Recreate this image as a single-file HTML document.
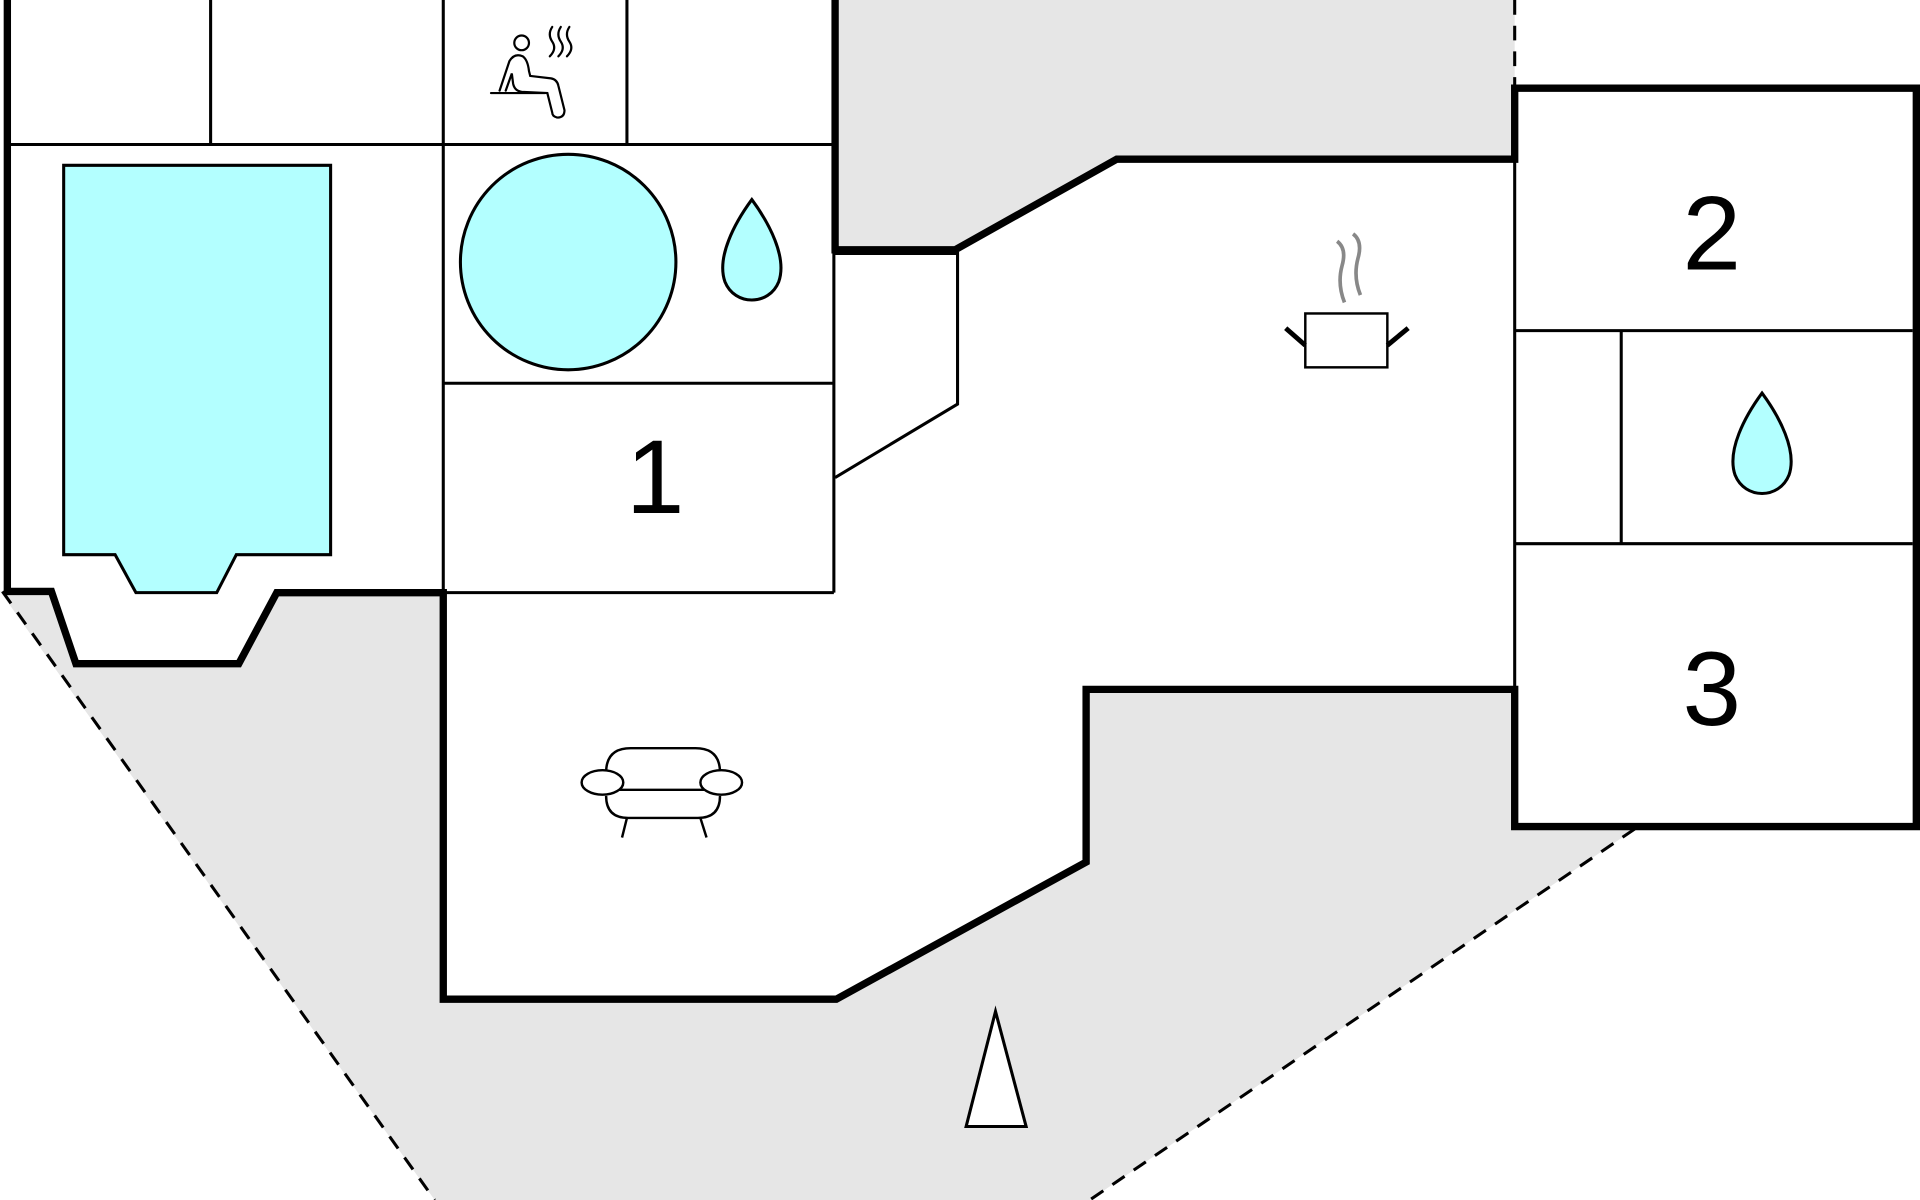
<!DOCTYPE html>
<html><head><meta charset="utf-8"><style>
html,body{margin:0;padding:0;background:#fff;width:1920px;height:1200px;overflow:hidden}
svg{display:block}
text{font-family:"Liberation Sans",sans-serif}
</style></head><body>
<svg width="1920" height="1200" viewBox="0 0 1568 980" xmlns="http://www.w3.org/2000/svg">
<rect width="1568" height="980" fill="#fff"/>
<!-- gray areas -->
<polygon points="682,0 1237,0 1237,130 912,130 780,204 682,204" fill="#e6e6e6"/>
<polygon points="0,483 42,483 62,542 195,542 226,484 362,484 362,816 683,816 887,704 887,563 1237,563 1237,675 1335,677 890,980 355,980" fill="#e6e6e6"/>
<!-- dashed -->
<g stroke="#000" stroke-width="2.5" stroke-dasharray="12,9" fill="none">
<line x1="2" y1="483" x2="355" y2="980"/>
<line x1="1335" y1="677" x2="890" y2="980"/>
<line x1="1237" y1="0" x2="1237" y2="72"/>
</g>
<!-- thin walls -->
<g stroke="#000" stroke-width="2.5" fill="none">
<line x1="6" y1="118" x2="680" y2="118"/>
<line x1="172" y1="0" x2="172" y2="118"/>
<line x1="362" y1="0" x2="362" y2="484"/>
<line x1="512" y1="0" x2="512" y2="118"/>
<line x1="362" y1="313" x2="681" y2="313"/>
<line x1="681" y1="204" x2="681" y2="484"/>
<line x1="362" y1="484" x2="681" y2="484"/>
<polyline points="682,207 782,207 782,330 682,390"/>
<line x1="1237" y1="130" x2="1237" y2="563"/>
<line x1="1237" y1="270" x2="1562" y2="270"/>
<line x1="1237" y1="444" x2="1562" y2="444"/>
<line x1="1324" y1="270" x2="1324" y2="444"/>
</g>
<!-- thick walls -->
<g stroke="#000" stroke-width="6" fill="none" stroke-linejoin="miter">
<polyline points="6,0 6,483 42,483 62,542 195,542 226,484 362,484 362,816 683,816 887,704 887,563 1237,563 1237,675 1565,675 1565,72 1237,72 1237,130 912,130 780,204 682,204 682,0"/>
</g>
<!-- pool -->
<polygon points="52,135 270,135 270,453 193,453 177,484 111,484 94,453 52,453" fill="#b3ffff" stroke="#000" stroke-width="2.5"/>
<circle cx="464" cy="214" r="88" fill="#b3ffff" stroke="#000" stroke-width="2.5"/>
<!-- drops -->
<path d="M614,163 C600,182 585,210 592,230 C600,250 628,250 636,230 C643,210 628,182 614,163 Z" fill="#b3ffff" stroke="#000" stroke-width="2.5"/>
<path d="M1439,321 C1425,340 1410,368 1417,388 C1425,408 1453,408 1461,388 C1468,368 1453,340 1439,321 Z" fill="#b3ffff" stroke="#000" stroke-width="2.5"/>
<!-- numbers -->
<text x="535" y="419" font-size="86" text-anchor="middle">1</text>
<text x="1398" y="220" font-size="86" text-anchor="middle">2</text>
<text x="1398" y="592" font-size="86" text-anchor="middle">3</text>
<!-- sauna icon -->
<g stroke="#000" stroke-width="1.8" fill="none" stroke-linecap="round">
<circle cx="426" cy="35" r="6"/>
<path d="M408,74 L416,50 Q420,43 427,46 Q431,49 432,58 L433,62 L450,64 Q455,65 456,70 L461,90 Q461,96 455,96 Q451,95 451,92 L447,76 L426,75 Q420,74 419,68 L418,60 L413,74"/>
<line x1="401" y1="76" x2="445" y2="76"/>
<path d="M451,22 q-4,6 0,12 q4,6 -2,12"/>
<path d="M458,22 q-4,6 0,12 q4,6 -2,12"/>
<path d="M465,22 q-4,6 0,12 q4,6 -2,12"/>
</g>
<!-- pot icon -->
<g stroke="#000" stroke-width="2" fill="none">
<rect x="1066" y="256" width="67" height="44"/>
<path d="M1066,282 L1050,268" stroke-width="4"/>
<path d="M1133,282 L1150,268" stroke-width="4"/>
<path d="M1092,197 q8,6 4,20 q-4,15 2,30" stroke="#888" stroke-width="3"/>
<path d="M1105,191 q8,6 4,20 q-4,15 2,30" stroke="#888" stroke-width="3"/>
</g>
<!-- sofa icon -->
<g stroke="#000" stroke-width="2" fill="#fff">
<path d="M495,631 Q495,611 515,611 L568,611 Q588,611 588,631"/>
<path d="M495,650 Q495,668 513,668 L570,668 Q588,668 588,650"/>
<line x1="505" y1="645" x2="578" y2="645"/>
<line x1="512" y1="668" x2="508" y2="684"/>
<line x1="572" y1="668" x2="577" y2="684"/>
<ellipse cx="492" cy="639" rx="17" ry="10"/>
<ellipse cx="589" cy="639" rx="17" ry="10"/>
</g>
<!-- north triangle -->
<polygon points="789,920 813,826 838,920" fill="#fff" stroke="#000" stroke-width="2.5"/>
</svg>
</body></html>
